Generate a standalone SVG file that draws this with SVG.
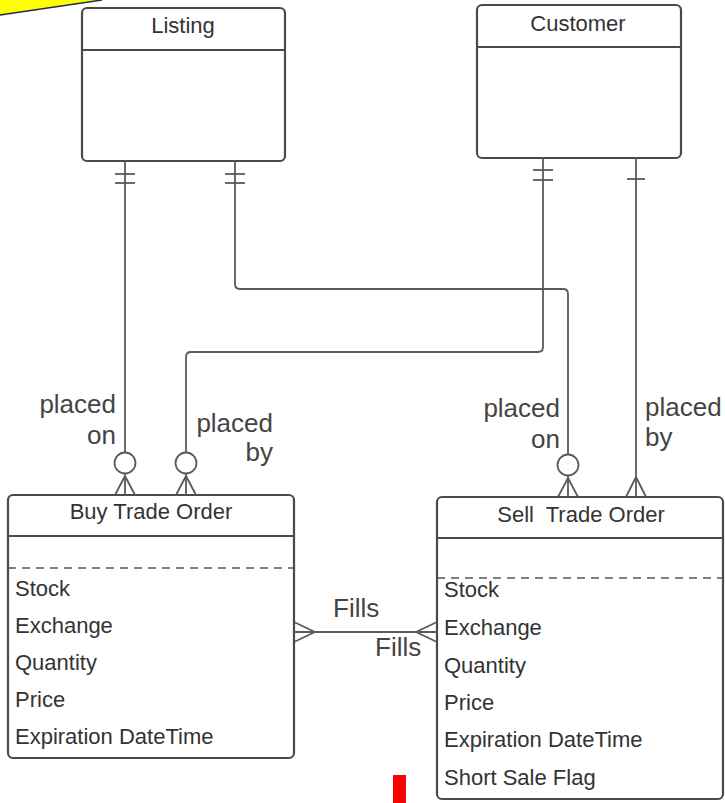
<svg xmlns="http://www.w3.org/2000/svg" width="725" height="803" viewBox="0 0 725 803">
<style>
.box{fill:#fff;stroke:#4a4a4a;stroke-width:2.2}
.div{stroke:#4a4a4a;stroke-width:2.2}
.dash{stroke:#555;stroke-width:1.5;stroke-dasharray:8 6}
.ln{fill:none;stroke:#5a5a5a;stroke-width:1.8;stroke-linejoin:round}
.t{font-family:"Liberation Sans",Arial,sans-serif;font-size:22px;fill:#333}
.a{font-family:"Liberation Sans",Arial,sans-serif;font-size:22px;fill:#333}
.lbl{font-family:"Liberation Sans",Arial,sans-serif;font-size:26px;fill:#444}
</style>
<rect width="725" height="803" fill="#fff"/>
<polygon points="0,0 102,0 0,15" fill="#ffff00"/>
<line x1="0" y1="15" x2="102" y2="0" stroke="#1a2a5a" stroke-width="1.5"/>

<g id="listing">
<rect class="box" x="82" y="8" width="203" height="153" rx="5"/>
<line class="div" x1="82" y1="50" x2="285" y2="50"/>
<text class="t" x="183" y="33" text-anchor="middle">Listing</text>
</g>

<g id="customer">
<rect class="box" x="477" y="5" width="204" height="153" rx="5"/>
<line class="div" x1="477" y1="47" x2="681" y2="47"/>
<text class="t" x="578" y="31" text-anchor="middle">Customer</text>
</g>

<g id="buy-trade-order">
<rect class="box" x="8" y="495" width="286" height="263" rx="5"/>
<line class="div" x1="8" y1="536" x2="294" y2="536"/>
<line class="dash" x1="8" y1="568" x2="294" y2="568"/>
<text class="t" x="151" y="519" text-anchor="middle">Buy Trade Order</text>
<text class="a" x="15" y="596">Stock</text>
<text class="a" x="15" y="633">Exchange</text>
<text class="a" x="15" y="670">Quantity</text>
<text class="a" x="15" y="707">Price</text>
<text class="a" x="15" y="744">Expiration DateTime</text>
</g>

<g id="sell-trade-order">
<rect class="box" x="437" y="497" width="286" height="302" rx="5"/>
<line class="div" x1="437" y1="538" x2="723" y2="538"/>
<line class="dash" x1="437" y1="578" x2="723" y2="578"/>
<text class="t" x="581" y="522" text-anchor="middle" xml:space="preserve">Sell  Trade Order</text>
<text class="a" x="444" y="597">Stock</text>
<text class="a" x="444" y="635">Exchange</text>
<text class="a" x="444" y="673">Quantity</text>
<text class="a" x="444" y="710">Price</text>
<text class="a" x="444" y="747">Expiration DateTime</text>
<text class="a" x="444" y="785">Short Sale Flag</text>
</g>

<g id="connectors">
<!-- Listing -> Buy (placed on) -->
<line class="ln" x1="125" y1="161" x2="125" y2="452"/>
<line class="ln" x1="115" y1="174" x2="135" y2="174"/>
<line class="ln" x1="115" y1="183" x2="135" y2="183"/>
<circle class="ln" cx="125" cy="463" r="10.5"/>
<path class="ln" d="M125,474 L125,495 M125,476 L115,495 M125,476 L135,495"/>

<!-- Customer -> Buy (placed by) -->
<path class="ln" d="M543,158 L543,347 Q543,352 538,352 L191,352 Q186,352 186,357 L186,452"/>
<line class="ln" x1="533" y1="170" x2="553" y2="170"/>
<line class="ln" x1="533" y1="180" x2="553" y2="180"/>
<circle class="ln" cx="186" cy="463" r="10.5"/>
<path class="ln" d="M186,474 L186,495 M186,476 L176,495 M186,476 L196,495"/>

<!-- Listing -> Sell (placed on) -->
<path class="ln" d="M235,161 L235,284 Q235,289 240,289 L563,289 Q568,289 568,294 L568,454"/>
<line class="ln" x1="225" y1="174" x2="245" y2="174"/>
<line class="ln" x1="225" y1="183" x2="245" y2="183"/>
<circle class="ln" cx="568" cy="465" r="10.5"/>
<path class="ln" d="M568,476 L568,497 M568,478 L558,497 M568,478 L578,497"/>

<!-- Customer -> Sell (placed by) -->
<line class="ln" x1="636" y1="158" x2="636" y2="497"/>
<line class="ln" x1="627" y1="179" x2="645" y2="179"/>
<path class="ln" d="M636,477 L626,497 M636,477 L646,497"/>

<!-- Fills -->
<line class="ln" x1="294" y1="632" x2="437" y2="632"/>
<path class="ln" d="M294,622 L315,632 L294,642"/>
<path class="ln" d="M437,622 L416,632 L437,642"/>
</g>

<g id="labels">
<text class="lbl" x="116" y="413" text-anchor="end">placed</text>
<text class="lbl" x="116" y="444" text-anchor="end">on</text>
<text class="lbl" x="273" y="432" text-anchor="end">placed</text>
<text class="lbl" x="273" y="461" text-anchor="end">by</text>
<text class="lbl" x="560" y="417" text-anchor="end">placed</text>
<text class="lbl" x="560" y="448" text-anchor="end">on</text>
<text class="lbl" x="645" y="416">placed</text>
<text class="lbl" x="645" y="446">by</text>
<text class="lbl" x="333" y="617">Fills</text>
<text class="lbl" x="375" y="656">Fills</text>
</g>

<rect x="393" y="775" width="13" height="28" fill="#ff0000"/>
</svg>
